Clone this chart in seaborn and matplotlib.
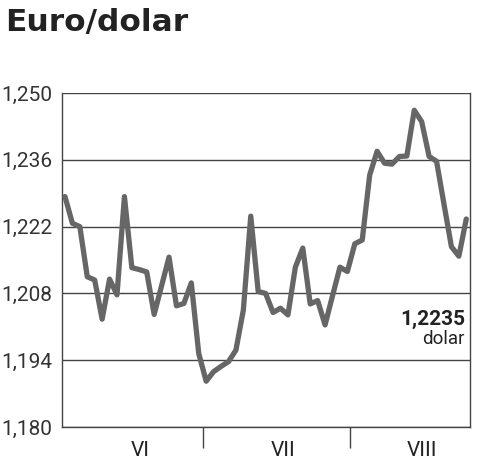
import matplotlib
matplotlib.use("Agg")
import matplotlib.pyplot as plt
import seaborn as sns
import numpy as np
import pandas as pd

# daily euro/dollar rate, June - August
rate = [1.2283, 1.2227, 1.2220, 1.2115, 1.2108, 1.2026, 1.2110, 1.2077, 1.2283, 1.2134,
        1.2130, 1.2125, 1.2036, 1.2096, 1.2156, 1.2054, 1.2059, 1.2102, 1.1954, 1.1896,
        1.1916, 1.1927, 1.1937, 1.1961, 1.2045, 1.2242, 1.2084, 1.2080, 1.2040, 1.2049,
        1.2035, 1.2135, 1.2175, 1.2058, 1.2065, 1.2014, 1.2075, 1.2135, 1.2126, 1.2184,
        1.2192, 1.2328, 1.2378, 1.2353, 1.2351, 1.2367, 1.2368, 1.2464, 1.2440, 1.2367,
        1.2357, 1.2267, 1.2178, 1.2158, 1.2236]
y_ticks = [1.180, 1.194, 1.208, 1.222, 1.236, 1.250]
y_labels = ["1,180", "1,194", "1,208", "1,222", "1,236", "1,250"]
months = ["VI", "VII", "VIII"]
month_pos = [10.1, 29.3, 48.0]
month_breaks = [18.6, 38.4]
last_label = "1,2235"

df = pd.DataFrame({"day": np.arange(len(rate)), "rate": rate})

sns.set_style("white")
plt.rcParams["font.family"] = ["Roboto", "DejaVu Sans"]

fig = plt.figure(figsize=(5, 4.7), dpi=100)
ax = fig.add_axes([0.124, 0.0915, 0.816, 0.7105])

for t in y_ticks:
    ax.axhline(t, color="#444444", lw=1.0, zorder=1)

sns.lineplot(data=df, x="day", y="rate", color="#666666", lw=3.8, ax=ax, zorder=3)

ax.set_xlim(-0.4, 54.5)
ax.set_ylim(1.180, 1.250)
ax.set_yticks(y_ticks)
ax.set_yticklabels(y_labels, fontsize=15, color="#333333")
ax.set_xticks(month_pos)
ax.set_xticklabels(months, fontsize=15, color="#222222")
ax.set_xticks(month_breaks, minor=True)
ax.tick_params(axis="y", length=0, pad=7)
ax.tick_params(axis="x", which="major", length=0, pad=10)
ax.tick_params(axis="x", which="minor", bottom=True, length=15, width=1, color="#444444")
ax.set_xlabel("")
ax.set_ylabel("")

for side in ["left", "right", "bottom"]:
    ax.spines[side].set_color("#444444")
    ax.spines[side].set_linewidth(1.0)
ax.spines["top"].set_visible(False)

ax.text(0.988, 0.322, last_label, transform=ax.transAxes, ha="right", va="center",
        fontsize=15, fontweight="bold", color="#222222")
ax.text(0.988, 0.263, "dolar", transform=ax.transAxes, ha="right", va="center",
        fontsize=13.5, color="#222222")

fig.text(0.01, 0.953, "Euro/dolar", ha="left", va="center", fontsize=22.5,
         fontweight="bold", color="#222222", family="DejaVu Sans")

fig.savefig("out.png", dpi=100, facecolor="white")
